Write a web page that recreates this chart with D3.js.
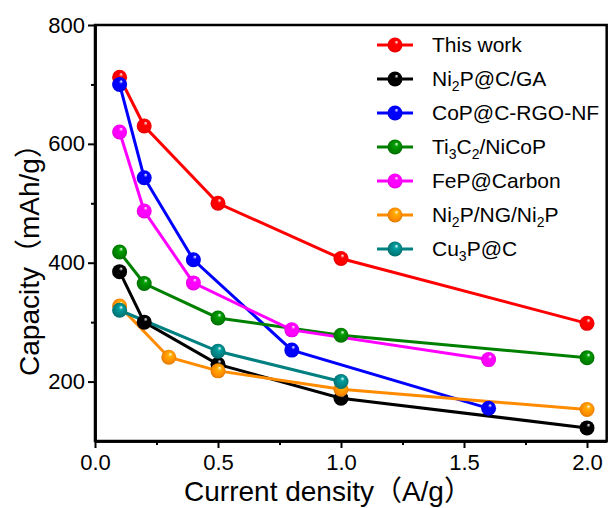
<!DOCTYPE html>
<html>
<head>
<meta charset="utf-8">
<script src="https://cdn.jsdelivr.net/npm/d3@7"></script>
<style>
  body { margin: 0; background: #fff; }
  text { font-family: "Liberation Sans", Arial, "Noto Sans CJK SC", sans-serif; fill: #000; }
</style>
</head>
<body>
<div id="chart"></div>
<script>
// Series data
const seriesNames = ["This work", "Ni2P@C/GA", "CoP@C-RGO-NF", "Ti3C2/NiCoP", "FeP@Carbon", "Ni2P/NG/Ni2P", "Cu3P@C"];
const seriesColors = ["#ff0000", "#000000", "#0000ff", "#008000", "#ff00ff", "#ff8c00", "#008080"];
const thisWork = [[0.1, 712], [0.2, 630], [0.5, 500], [1.0, 407], [2.0, 298]];
const ni2pcga = [[0.1, 385], [0.2, 300], [0.5, 229], [1.0, 172], [2.0, 122]];
const copRgo = [[0.1, 700], [0.2, 543], [0.4, 405], [0.8, 253], [1.6, 155]];
const ti3c2 = [[0.1, 418], [0.2, 365], [0.5, 307], [1.0, 278], [2.0, 240]];
const fepCarbon = [[0.1, 620], [0.2, 487], [0.4, 366], [0.8, 287], [1.6, 237]];
const ni2pNg = [[0.1, 327], [0.3, 241], [0.5, 218], [1.0, 187], [2.0, 153]];
const cu3pC = [[0.1, 320], [0.5, 251], [1.0, 200]];
const allSeries = [thisWork, ni2pcga, copRgo, ti3c2, fepCarbon, ni2pNg, cu3pC];

const xTicks = [0.0, 0.5, 1.0, 1.5, 2.0];
const yTicks = [200, 400, 600, 800];

const W = 611, H = 508;
const margin = { top: 25, right: 4, bottom: 67, left: 95 };

const svg = d3.select("#chart").append("svg")
  .attr("width", W).attr("height", H);

const x = d3.scaleLinear().domain([0, 2.08]).range([margin.left, margin.left + 2.08 * 246]);
const y = d3.scaleLinear().domain([100, 800]).range([H - margin.bottom, margin.top]);

// gradients for the shiny ball markers
const defs = svg.append("defs");
seriesColors.forEach((c, i) => {
  const g = defs.append("radialGradient").attr("id", "ball" + i)
    .attr("cx", "50%").attr("cy", "50%").attr("r", "55%")
    .attr("fx", "62%").attr("fy", "28%");
  g.append("stop").attr("offset", "0%").attr("stop-color", "#ffffff");
  g.append("stop").attr("offset", "25%").attr("stop-color", d3.color(c).brighter(0.6));
  g.append("stop").attr("offset", "70%").attr("stop-color", c);
  g.append("stop").attr("offset", "100%").attr("stop-color", d3.color(c).darker(0.5));
});

// frame
const x0 = x.range()[0], x1 = x.range()[1], y0 = y.range()[0], y1 = y.range()[1];
svg.append("rect").attr("x", x0).attr("y", y1).attr("width", x1 - x0).attr("height", y0 - y1)
  .attr("fill", "none").attr("stroke", "#000").attr("stroke-width", 2.5);

// axes
const xAxis = svg.append("g").attr("transform", `translate(0,${y0})`)
  .call(d3.axisBottom(x).tickValues(xTicks).tickFormat(d3.format(".1f")).tickSize(7).tickSizeOuter(0).tickPadding(6));
const xMinor = svg.append("g").attr("transform", `translate(0,${y0})`)
  .call(d3.axisBottom(x).tickValues([0.25, 0.75, 1.25, 1.75]).tickFormat("").tickSize(4).tickSizeOuter(0));
const yAxis = svg.append("g").attr("transform", `translate(${x0},0)`)
  .call(d3.axisLeft(y).tickValues(yTicks).tickSize(7).tickSizeOuter(0).tickPadding(3));
const yMinor = svg.append("g").attr("transform", `translate(${x0},0)`)
  .call(d3.axisLeft(y).tickValues([300, 500, 700]).tickFormat("").tickSize(4).tickSizeOuter(0));

[xAxis, xMinor, yAxis, yMinor].forEach(a => {
  a.select(".domain").attr("stroke-width", 2.5);
  a.selectAll(".tick line").attr("stroke-width", 2);
  a.selectAll(".tick text").attr("font-size", 22).attr("font-family", "Liberation Sans, Arial, sans-serif").attr("fill", "#000");
});

// axis titles
svg.append("text").attr("x", 328).attr("y", 501).attr("text-anchor", "middle")
  .attr("font-size", 28).text("Current density（A/g）");
svg.append("text").attr("transform", `translate(39,${(y0 + y1) / 2 + 20}) rotate(-90)`)
  .attr("text-anchor", "middle").attr("font-size", 28).text("Capacity（mAh/g）");

// lines and markers
const line = d3.line().x(d => x(d[0])).y(d => y(d[1]));
allSeries.forEach((s, i) => {
  svg.append("path").datum(s).attr("d", line)
    .attr("fill", "none").attr("stroke", seriesColors[i]).attr("stroke-width", 3);
});
allSeries.forEach((s, i) => {
  svg.selectAll(".pt" + i).data(s).enter().append("circle")
    .attr("cx", d => x(d[0])).attr("cy", d => y(d[1])).attr("r", 7.5)
    .attr("fill", `url(#ball${i})`);
});

// legend
function labelParts(name) {
  // digits following an element symbol are subscripts
  const parts = [];
  const re = /([^\d]+)|(\d+)/g;
  let m;
  while ((m = re.exec(name)) !== null) {
    if (m[1]) parts.push({ t: m[1], sub: false });
    else parts.push({ t: m[2], sub: true });
  }
  return parts;
}
const legend = svg.append("g");
seriesNames.forEach((name, i) => {
  const ly = 45 + i * 34;
  legend.append("line").attr("x1", 377).attr("x2", 413).attr("y1", ly).attr("y2", ly)
    .attr("stroke", seriesColors[i]).attr("stroke-width", 3);
  legend.append("circle").attr("cx", 395).attr("cy", ly).attr("r", 7.5)
    .attr("fill", `url(#ball${i})`);
  const t = legend.append("text").attr("x", 432).attr("y", ly + 7).attr("font-size", 21);
  let shifted = false;
  labelParts(name).forEach(p => {
    if (p.sub) {
      t.append("tspan").attr("font-size", 14).attr("dy", 5).text(p.t);
      shifted = true;
    } else {
      const ts = t.append("tspan").text(p.t);
      if (shifted) { ts.attr("dy", -5); shifted = false; }
    }
  });
});
</script>
</body>
</html>
